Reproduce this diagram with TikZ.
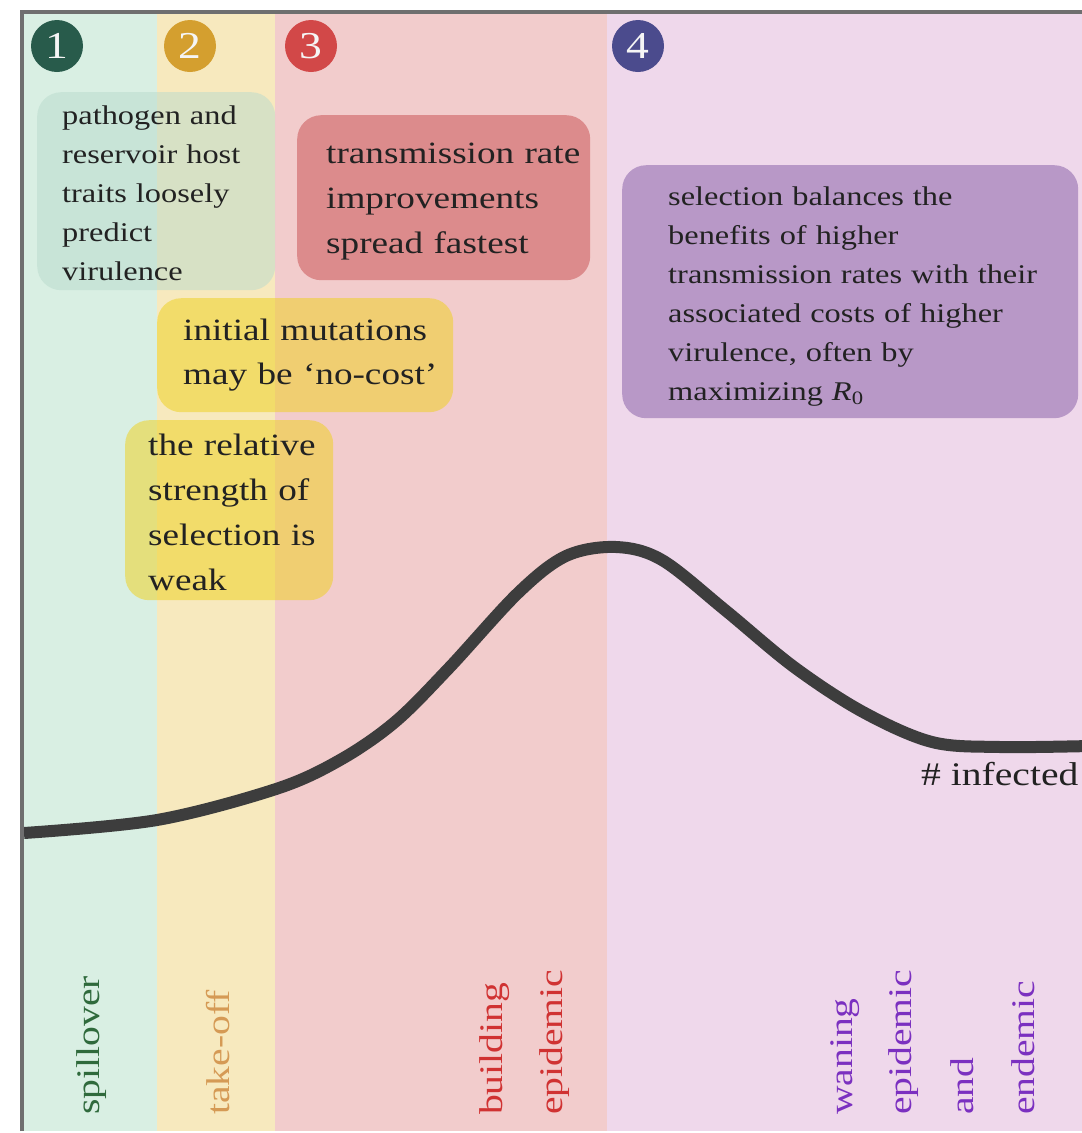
\documentclass[tikz,border=0pt]{standalone}
\usepackage{fontspec}
\setmainfont[FakeStretch=1.2]{Liberation Serif}
\definecolor{bandG}{HTML}{D9EFE3}
\definecolor{bandY}{HTML}{F7E9BE}
\definecolor{bandR}{HTML}{F2CCCC}
\definecolor{bandP}{HTML}{EFD8EB}
\definecolor{cA}{HTML}{285B4B}
\definecolor{cB}{HTML}{D49F2F}
\definecolor{cC}{HTML}{D24848}
\definecolor{cD}{HTML}{4B4B8D}
\definecolor{boxG}{HTML}{B8DBCD}
\definecolor{boxR}{HTML}{DC8B8C}
\definecolor{boxY}{HTML}{EFD017}
\definecolor{boxP}{HTML}{B898C7}
\definecolor{txt}{HTML}{222222}
\definecolor{framec}{HTML}{6F6F6F}
\definecolor{curvec}{HTML}{3D3D3D}
\definecolor{labG}{HTML}{2F6A3C}
\definecolor{labY}{HTML}{D59A55}
\definecolor{labR}{HTML}{D03232}
\definecolor{labP}{HTML}{7B30C0}
\begin{document}
\begin{tikzpicture}[x=1pt,y=-1pt,
  num/.style={circle, minimum size=52pt, inner sep=0pt, text=white!92!gray,
    font=\fontsize{38pt}{38pt}\selectfont},
  infobox/.style={rounded corners=24pt, anchor=north west, align=left,
    inner ysep=0pt, text=txt},
  vlab/.style={rotate=90, anchor=base west, inner sep=0pt,
    font=\fontsize{33pt}{33pt}\selectfont},
  curve/.style={line width=12pt, draw=curvec, line cap=butt, line join=round}]
\useasboundingbox (0,0) rectangle (1082,1133);
\fill[white] (0,0) rectangle (1082,1133);
% bands
\fill[bandG] (24,14) rectangle (157,1131);
\fill[bandY] (157,14) rectangle (275,1131);
\fill[bandR] (275,14) rectangle (607,1131);
\fill[bandP] (607,14) rectangle (1082,1131);
% phase numbers
\node[num, fill=cA] (n1) at (57,46) {1};
\node[num, fill=cB] (n2) at (190,46) {2};
\node[num, fill=cC] (n3) at (311,46) {3};
\node[num, fill=cD] (n4) at (638,46) {4};
% curve
\draw[curve] plot[smooth, tension=0.55] coordinates {
 (24,833) (157,820) (276,789) (340,760) (395,722) (449,668) (518,593) (566,556)
 (616,547) (662,560) (725,610) (794,667) (863,712) (932,742) (1000,747)
 (1090,746)};
% frame
\draw[framec, line width=4pt] (22,1131) -- (22,12) -- (1082,12);
% boxes
\node[infobox, fill=boxG, fill opacity=.5, text opacity=1,
  minimum height=198pt, text width=188pt, inner xsep=25pt,
  font=\fontsize{27pt}{39pt}\selectfont] (b1) at (37,92)
  {\rule{0pt}{30pt}\mbox{pathogen and}\\\mbox{reservoir host}\\\mbox{traits loosely}\\predict\\virulence\rule[-8pt]{0pt}{8pt}};
\node[infobox, fill=boxR,
  minimum height=165pt, text width=235pt, inner xsep=29pt,
  font=\fontsize{31pt}{45pt}\selectfont] (b3) at (297,115)
  {\rule{0pt}{29pt}\mbox{transmission rate}\\improvements\\\mbox{spread fastest}\rule[-8pt]{0pt}{8pt}};
\node[infobox, fill=boxY, fill opacity=.5, text opacity=1,
  minimum height=114pt, text width=244pt, inner xsep=26pt,
  font=\fontsize{31pt}{44pt}\selectfont] (b2a) at (157,298)
  {\rule{0pt}{22pt}\mbox{initial mutations}\\\mbox{may be `no-cost'}\rule[-8pt]{0pt}{8pt}};
\node[infobox, fill=boxY, fill opacity=.5, text opacity=1,
  minimum height=180pt, text width=162pt, inner xsep=23pt,
  font=\fontsize{31pt}{45pt}\selectfont] (b2b) at (125,420)
  {\rule{0pt}{33pt}\mbox{the relative}\\\mbox{strength of}\\\mbox{selection is}\\weak\rule[-8pt]{0pt}{8pt}};
\node[infobox, fill=boxP,
  minimum height=253pt, text width=364pt, inner xsep=46pt,
  font=\fontsize{27pt}{39pt}\selectfont] (b4) at (622,165)
  {\rule{0pt}{30pt}\mbox{selection balances the}\\\mbox{benefits of higher}\\\mbox{transmission rates with their}\\\mbox{associated costs of higher}\\\mbox{virulence, often by}\\\mbox{maximizing {\itshape R}\textsubscript{0}}\rule[-8pt]{0pt}{8pt}};
% curve label
\node[anchor=base west, inner sep=0pt, text=txt,
  font=\fontsize{33pt}{33pt}\selectfont] (linf) at (921,785) {\# infected};
% phase labels
\node[vlab, text=labG] (lspill) at (99,1115) {spillover};
\node[vlab, text=labY] (ltake) at (229,1115) {take-off};
\node[vlab, text=labR] (lbuild) at (502,1115) {building};
\node[vlab, text=labR] (lepi) at (562,1115) {epidemic};
\node[vlab, text=labP] (lwan) at (852,1115) {waning};
\node[vlab, text=labP] (lepib) at (911,1115) {epidemic};
\node[vlab, text=labP] (land) at (973,1115) {and};
\node[vlab, text=labP] (lend) at (1034,1115) {endemic};
\end{tikzpicture}
\end{document}
